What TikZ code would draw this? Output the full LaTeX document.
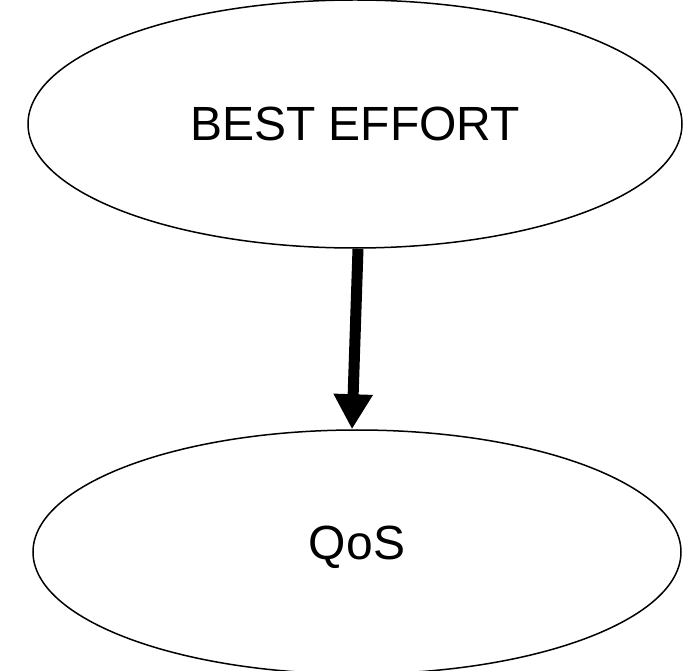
\documentclass[tikz,border=0pt]{standalone}
\usepackage{fontspec}
\setmainfont{Liberation Sans}
\usetikzlibrary{arrows.meta,shapes.geometric}

\begin{document}
\begin{tikzpicture}[x=1pt,y=1pt,font=\fontsize{48}{58}\selectfont,
        stage/.style={draw,ellipse,line width=1.5pt,inner sep=0pt},
        flow/.style={line width=11pt,-{Triangle[length=35pt,width=37pt]}}]
        \useasboundingbox (0,0) rectangle (683,670);
        \node[stage,minimum width=654pt,minimum height=248pt] (best) at (355,546) {BEST EFFORT};
        % depth lifts the text a little above the ellipse centre
        \node[stage,minimum width=648pt,minimum height=244pt,text depth=19pt] (qos) at (357,118) {QoS};
        \draw[flow] ([xshift=3pt]best.south) -- ([xshift=-5pt]qos.north);
      \end{tikzpicture}
\end{document}
